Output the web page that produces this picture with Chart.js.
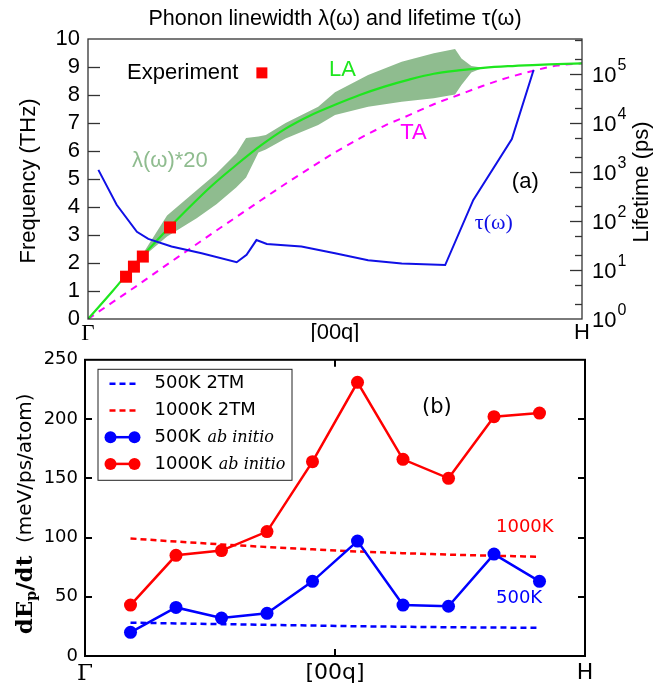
<!DOCTYPE html>
<html>
<head>
<meta charset="utf-8">
<script src="https://cdn.jsdelivr.net/npm/chart.js@4.4.1/dist/chart.umd.min.js"></script>
<style>
  html, body { margin: 0; padding: 0; background: #fff; }
  #wrapA { position: absolute; left: 0; top: 0; width: 654px; height: 342px; }
  #wrapB { position: absolute; left: 0; top: 342px; width: 654px; height: 344px; }
</style>
</head>
<body>
<div id="wrapA"><canvas id="chartA" width="654" height="342"></canvas></div>
<div id="wrapB"><canvas id="chartB" width="654" height="344"></canvas></div>
<script>
// ---- panel (a): dispersion along Gamma-H, q in 0..1 ----
const dispQ  = [0, 0.05, 0.1, 0.15, 0.2, 0.25, 0.3, 0.35, 0.4, 0.45, 0.5, 0.55, 0.6, 0.65, 0.7, 0.75, 0.8, 0.85, 0.9, 0.95, 1.0];
const laFreq = [0, 1.0, 2.05, 3.0, 3.9, 4.75, 5.5, 6.2, 6.8, 7.27, 7.65, 8.0, 8.3, 8.55, 8.76, 8.88, 8.97, 9.03, 9.07, 9.1, 9.13];
const taFreq = [0, 0.6, 1.2, 1.82, 2.43, 3.04, 3.64, 4.24, 4.83, 5.4, 5.95, 6.45, 6.9, 7.28, 7.67, 8.0, 8.33, 8.62, 8.86, 9.05, 9.13];

// linewidth band (LA +/- lambda*20)
const bandQ  = [0.11, 0.16, 0.22, 0.26, 0.30, 0.32, 0.345, 0.36, 0.40, 0.466, 0.50, 0.567, 0.635, 0.70, 0.743, 0.756, 0.776, 0.80];
const bandHi = [2.3, 3.7, 4.6, 5.2, 5.9, 6.46, 6.52, 6.57, 7.0, 7.58, 8.1, 8.71, 9.19, 9.49, 9.64, 9.3, 9.04, 8.97];
const bandLo = [2.2, 2.95, 3.6, 4.1, 4.7, 5.05, 5.95, 6.05, 6.45, 6.93, 7.29, 7.58, 7.76, 7.88, 8.02, 8.36, 8.8, 8.97];

// lifetime tau (ps), right log axis
const tauQ  = [0.021, 0.058, 0.099, 0.122, 0.169, 0.23, 0.301, 0.321, 0.341, 0.362, 0.432, 0.5, 0.567, 0.635, 0.723, 0.78, 0.858, 0.902];
const tauPs = [1100, 214, 60, 43, 30, 22, 14.4, 20.4, 40.7, 33.9, 30.2, 21.9, 15.8, 13.5, 12.6, 269, 4680, 120000];

// experiment points
const expQ    = [0.077, 0.093, 0.111, 0.166];
const expFreq = [1.51, 1.87, 2.23, 3.27];

// ---- panel (b): energy transfer rate ----
const rateQ     = [0.091, 0.182, 0.273, 0.364, 0.455, 0.545, 0.636, 0.727, 0.818, 0.909];
const ab1000    = [43, 85, 89, 105, 164, 231, 166, 150, 202, 205];
const ab500     = [20, 41, 32, 36, 63, 97, 43, 42, 86, 63];
const tm1000    = [99.2, 96.6, 94.2, 92.0, 90.0, 88.2, 86.8, 85.6, 84.6, 83.8];
const tm500     = [28.1, 27.5, 26.9, 26.3, 25.7, 25.1, 24.7, 24.3, 24.0, 23.9];

const pathLabels = {0: 'Γ', 0.5: '[00q]', 1: 'H'};

function pts(xs, ys) { return xs.map((x, i) => ({x: x, y: ys[i]})); }

function hline(ctx, x1, y1, x2, y2) {
  ctx.beginPath(); ctx.moveTo(x1, y1); ctx.lineTo(x2, y2); ctx.stroke();
}

const SANS_A = '"Liberation Sans", Arial, sans-serif';
const SERIF_A = '"Liberation Serif", "Times New Roman", serif';
const SANS_B = '"DejaVu Sans", sans-serif';
const SERIF_B = '"DejaVu Serif", serif';

const green = '#1ee61e';
const bandColor = '#8fbc8f';
const magenta = '#ff00ff';
const tauBlue = '#1010e6';

// decorations for panel (a)
const decoA = {
  id: 'decoA',
  afterDraw(chart) {
    const {ctx, chartArea: a, scales} = chart;
    const sx = scales.x, sy = scales.y, sl = scales.y2;
    ctx.save();
    ctx.strokeStyle = '#333';
    ctx.lineWidth = 1.3;
    for (let v = 1; v < 10; v++) {
      const y = Math.round(sy.getPixelForValue(v)) + 0.5;
      hline(ctx, a.left, y, a.left + 12, y);
    }
    for (let e = 0; e <= 5; e++) {
      [1, 2, 5].forEach(m => {
        const v = m * Math.pow(10, e);
        if (v <= 1 || v >= sl.max) return;
        const y = Math.round(sl.getPixelForValue(v)) + 0.5;
        hline(ctx, a.right, y, a.right - (m === 1 ? 12 : 7), y);
      });
    }
    ctx.strokeRect(a.left, a.top, a.right - a.left, a.bottom - a.top);

    // right axis labels 10^n
    ctx.fillStyle = '#000';
    ctx.textBaseline = 'middle';
    ctx.textAlign = 'left';
    for (let e = 0; e <= 5; e++) {
      const y = sl.getPixelForValue(Math.pow(10, e));
      ctx.font = '22px ' + SANS_A;
      ctx.fillText('10', a.right + 10, y + 2);
      const w = ctx.measureText('10').width;
      ctx.font = '16px ' + SANS_A;
      ctx.fillText(String(e), a.right + 11 + w, y - 8);
    }

    // axis titles
    ctx.font = '22px ' + SANS_A;
    ctx.textAlign = 'center';
    ctx.save();
    ctx.translate(29, (a.top + a.bottom) / 2 + 2);
    ctx.rotate(-Math.PI / 2);
    ctx.fillText('Frequency (THz)', 0, 0);
    ctx.restore();
    ctx.save();
    ctx.translate(642, (a.top + a.bottom) / 2 + 3);
    ctx.rotate(-Math.PI / 2);
    ctx.fillText('Lifetime (ps)', 0, 0);
    ctx.restore();

    // chart title
    ctx.font = '21.5px ' + SANS_A;
    ctx.fillText('Phonon linewidth λ(ω) and lifetime τ(ω)', (a.left + a.right) / 2, 19);

    // in-plot labels
    ctx.textAlign = 'left';
    ctx.font = '22px ' + SANS_A;
    ctx.fillStyle = '#000';
    ctx.fillText('Experiment', sx.getPixelForValue(0.079), sy.getPixelForValue(8.79));
    ctx.fillStyle = '#ff0000';
    const kx = sx.getPixelForValue(0.352), ky = sy.getPixelForValue(8.79);
    ctx.fillRect(kx - 5.5, ky - 5.5, 11, 11);
    ctx.fillStyle = green;
    ctx.fillText('LA', sx.getPixelForValue(0.488), sy.getPixelForValue(8.9));
    ctx.fillStyle = magenta;
    ctx.fillText('TA', sx.getPixelForValue(0.632), sy.getPixelForValue(6.64));
    ctx.fillStyle = bandColor;
    ctx.fillText('λ(ω)*20', sx.getPixelForValue(0.089), sy.getPixelForValue(5.64));
    ctx.fillStyle = '#000';
    ctx.fillText('(a)', sx.getPixelForValue(0.858), sy.getPixelForValue(4.89));
    ctx.fillStyle = tauBlue;
    ctx.font = '22px ' + SERIF_A;
    ctx.fillText('τ(ω)', sx.getPixelForValue(0.783), sy.getPixelForValue(3.43));
    ctx.restore();
  }
};

const chartA = new Chart(document.getElementById('chartA'), {
  type: 'line',
  data: {
    datasets: [
      {
        label: 'Experiment',
        data: pts(expQ, expFreq),
        showLine: false,
        pointStyle: 'rect',
        pointRadius: 8.5,
        pointBackgroundColor: '#ff0000',
        pointBorderWidth: 0,
        yAxisID: 'y',
        order: 0
      },
      {
        label: 'tau',
        data: pts(tauQ, tauPs),
        borderColor: tauBlue,
        borderWidth: 2,
        pointRadius: 0,
        tension: 0,
        yAxisID: 'y2',
        order: 1
      },
      {
        label: 'LA',
        data: pts(dispQ, laFreq),
        borderColor: green,
        borderWidth: 2.2,
        pointRadius: 0,
        cubicInterpolationMode: 'monotone',
        yAxisID: 'y',
        order: 2
      },
      {
        label: 'TA',
        data: pts(dispQ, taFreq),
        borderColor: magenta,
        borderWidth: 2,
        borderDash: [7, 6],
        pointRadius: 0,
        cubicInterpolationMode: 'monotone',
        yAxisID: 'y',
        order: 3
      },
      {
        label: 'band hi',
        data: pts(bandQ, bandHi),
        borderWidth: 0,
        borderColor: bandColor,
        backgroundColor: bandColor,
        pointRadius: 0,
        fill: '+1',
        yAxisID: 'y',
        order: 4
      },
      {
        label: 'band lo',
        data: pts(bandQ, bandLo),
        borderWidth: 0,
        borderColor: bandColor,
        pointRadius: 0,
        fill: false,
        yAxisID: 'y',
        order: 5
      }
    ]
  },
  options: {
    responsive: false,
    animation: false,
    layout: { padding: { top: 39, left: 0, right: 0, bottom: 0 } },
    plugins: { legend: { display: false }, tooltip: { enabled: false } },
    scales: {
      x: {
        type: 'linear', min: 0, max: 1,
        afterBuildTicks: s => { s.ticks = [0, 0.5, 1].map(v => ({value: v})); },
        ticks: {
          autoSkip: false, maxRotation: 0, padding: 1, color: '#000',
          callback: v => pathLabels[v],
          font: c => (c.tick && c.tick.value === 0) ? {family: SERIF_A, size: 23} : {family: SANS_A, size: 22}
        },
        grid: { display: false, drawTicks: false },
        border: { display: false },
        afterFit: s => { s.height = 23; }
      },
      y: {
        position: 'left', min: 0, max: 10,
        afterBuildTicks: s => { s.ticks = [0, 1, 2, 3, 4, 5, 6, 7, 8, 9, 10].map(v => ({value: v})); },
        ticks: { autoSkip: false, padding: 8, color: '#000', font: {family: SANS_A, size: 22} },
        grid: { display: false, drawTicks: false },
        border: { display: false },
        afterFit: s => { s.width = 88; }
      },
      y2: {
        type: 'logarithmic', position: 'right', min: 1, max: 5.13e5,
        ticks: { display: false },
        grid: { display: false, drawTicks: false },
        border: { display: false },
        afterFit: s => { s.width = 72; }
      }
    }
  },
  plugins: [decoA]
});

// decorations for panel (b)
const decoB = {
  id: 'decoB',
  afterDraw(chart) {
    const {ctx, chartArea: a, scales} = chart;
    const sx = scales.x, sy = scales.y;
    ctx.save();
    ctx.strokeStyle = '#000';
    ctx.lineWidth = 2;
    for (let v = 50; v < 250; v += 50) {
      const y = Math.round(sy.getPixelForValue(v));
      hline(ctx, a.left, y, a.left + 7, y);
      hline(ctx, a.right, y, a.right - 7, y);
    }
    const xm = sx.getPixelForValue(0.5);
    hline(ctx, xm, a.bottom, xm, a.bottom - 7);
    hline(ctx, xm, a.top, xm, a.top + 7);
    ctx.strokeRect(a.left, a.top, a.right - a.left, a.bottom - a.top);

    // legend box
    const lx = a.left + 12.5, ly = a.top + 9;
    ctx.lineWidth = 1;
    ctx.strokeStyle = '#222';
    ctx.fillStyle = '#fff';
    ctx.fillRect(lx, ly, 194, 111);
    ctx.strokeRect(lx + 0.5, ly + 0.5, 194, 111);
    const rows = [
      {c: '#0000ff', dash: true, t: '500K 2TM'},
      {c: '#ff0000', dash: true, t: '1000K 2TM'},
      {c: '#0000ff', dash: false, t: '500K ', it: 'ab initio'},
      {c: '#ff0000', dash: false, t: '1000K ', it: 'ab initio'}
    ];
    ctx.textBaseline = 'middle';
    ctx.textAlign = 'left';
    rows.forEach((r, i) => {
      const y = ly + 15 + i * 26.7;
      ctx.strokeStyle = r.c;
      ctx.fillStyle = r.c;
      ctx.lineWidth = 2.5;
      if (r.dash) {
        ctx.setLineDash([6, 4]);
        hline(ctx, lx + 12, y, lx + 40, y);
        ctx.setLineDash([]);
      } else {
        hline(ctx, lx + 13, y, lx + 37, y);
        [lx + 13, lx + 37].forEach(cx => { ctx.beginPath(); ctx.arc(cx, y, 6, 0, Math.PI * 2); ctx.fill(); });
      }
      ctx.fillStyle = '#000';
      ctx.font = '18px ' + SANS_B;
      ctx.fillText(r.t, lx + 57, y);
      if (r.it) {
        const w = ctx.measureText(r.t).width;
        ctx.font = 'italic 16px ' + SERIF_B;
        ctx.fillText(r.it, lx + 58 + w, y + 1);
      }
    });

    // in-plot labels
    ctx.font = '21px ' + SANS_B;
    ctx.fillStyle = '#000';
    ctx.fillText('(b)', sx.getPixelForValue(0.674), sy.getPixelForValue(210));
    ctx.font = '18px ' + SANS_B;
    ctx.fillStyle = '#ff0000';
    ctx.fillText('1000K', sx.getPixelForValue(0.822), sy.getPixelForValue(109));
    ctx.fillStyle = '#0000ff';
    ctx.fillText('500K', sx.getPixelForValue(0.822), sy.getPixelForValue(49));

    // y title: dE_p/dt (meV/ps/atom)
    const parts = [
      {t: 'dE', f: 'bold 23px ' + SERIF_B, dy: 0},
      {t: 'p', f: 'bold 14px ' + SERIF_B, dy: 6},
      {t: '/dt', f: 'bold 23px ' + SERIF_B, dy: 0},
      {t: '  (meV/ps/atom)', f: '20px ' + SANS_B, dy: 0}
    ];
    let total = 0;
    parts.forEach(p => { ctx.font = p.f; p.w = ctx.measureText(p.t).width; total += p.w; });
    ctx.save();
    ctx.translate(26, (a.top + a.bottom) / 2 + 6);
    ctx.rotate(-Math.PI / 2);
    ctx.fillStyle = '#000';
    let px = -total / 2;
    parts.forEach(p => { ctx.font = p.f; ctx.fillText(p.t, px, p.dy); px += p.w; });
    ctx.restore();
    ctx.restore();
  }
};

const chartB = new Chart(document.getElementById('chartB'), {
  type: 'line',
  data: {
    datasets: [
      {
        label: '1000K ab initio',
        data: pts(rateQ, ab1000),
        borderColor: '#ff0000', backgroundColor: '#ff0000',
        borderWidth: 2.5, pointRadius: 6.5, pointBorderWidth: 0,
        pointBackgroundColor: '#ff0000', tension: 0, order: 0
      },
      {
        label: '500K ab initio',
        data: pts(rateQ, ab500),
        borderColor: '#0000ff', backgroundColor: '#0000ff',
        borderWidth: 2.5, pointRadius: 6.5, pointBorderWidth: 0,
        pointBackgroundColor: '#0000ff', tension: 0, order: 1
      },
      {
        label: '1000K 2TM',
        data: pts(rateQ, tm1000),
        borderColor: '#ff0000', borderWidth: 2.5, borderDash: [6, 4],
        pointRadius: 0, cubicInterpolationMode: 'monotone', order: 2
      },
      {
        label: '500K 2TM',
        data: pts(rateQ, tm500),
        borderColor: '#0000ff', borderWidth: 2.5, borderDash: [6, 4],
        pointRadius: 0, cubicInterpolationMode: 'monotone', order: 3
      }
    ]
  },
  options: {
    responsive: false,
    animation: false,
    layout: { padding: { top: 14, left: 0, right: 69, bottom: 0 } },
    plugins: { legend: { display: false }, tooltip: { enabled: false } },
    scales: {
      x: {
        type: 'linear', min: 0, max: 1,
        afterBuildTicks: s => { s.ticks = [0, 0.5, 1].map(v => ({value: v})); },
        ticks: {
          autoSkip: false, maxRotation: 0, padding: 4, color: '#000',
          callback: v => pathLabels[v],
          font: c => (c.tick && c.tick.value === 0) ? {family: SERIF_B, size: 23} : {family: SANS_B, size: 22}
        },
        grid: { display: false, drawTicks: false },
        border: { display: false },
        afterFit: s => { s.height = 30; }
      },
      y: {
        position: 'left', min: 0, max: 250,
        ticks: { stepSize: 50, padding: 7, color: '#000', font: {family: SANS_B, size: 18} },
        grid: { display: false, drawTicks: false },
        border: { display: false },
        afterFit: s => { s.width = 85; }
      }
    }
  },
  plugins: [decoB]
});
</script>
</body>
</html>
